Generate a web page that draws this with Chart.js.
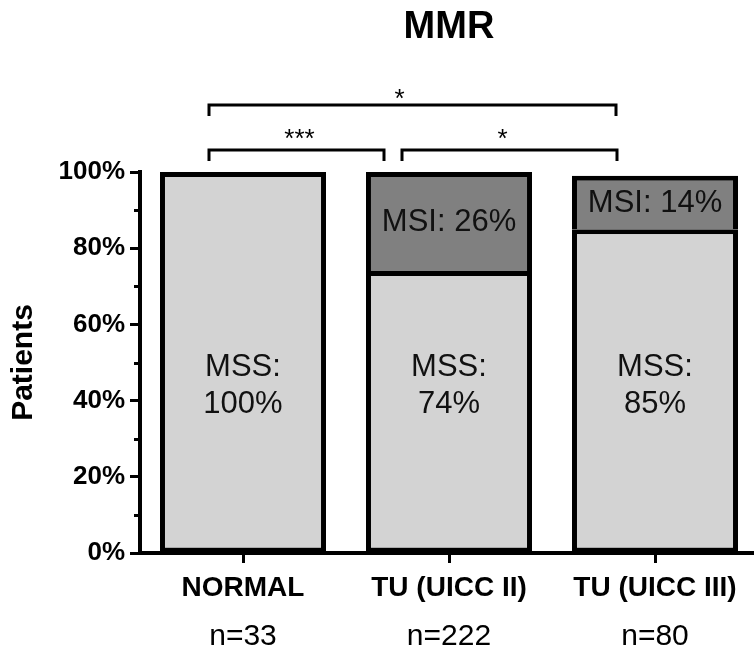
<!DOCTYPE html>
<html>
<head>
<meta charset="utf-8">
<script src="https://cdn.jsdelivr.net/npm/chart.js@4.4.1/dist/chart.umd.min.js"></script>
<style>
  html, body { margin: 0; padding: 0; background: #fff; overflow: hidden; }
  canvas { display: block; }
</style>
</head>
<body>
<canvas id="mmrChart" width="758" height="648"></canvas>
<script>
// Données du graphique
const categories = ['NORMAL', 'TU (UICC II)', 'TU (UICC III)'];
const sampleSizes = ['n=33', 'n=222', 'n=80'];
const mssValues = [100, 74, 85];
const msiValues = [null, 26, 14];
const sigPairs = [[0, 1], [1, 2], [0, 2]];
const sigLabels = ['***', '*', '*'];

const FONT = "'Liberation Sans', Arial, Helvetica, sans-serif";

// Etiquettes dans les barres (MSS / MSI)
const barLabels = {
  id: 'barLabels',
  afterDatasetsDraw(chart) {
    const ctx = chart.ctx;
    const y = chart.scales.y;
    ctx.save();
    ctx.fillStyle = '#111';
    ctx.font = '31px ' + FONT;
    ctx.textAlign = 'center';
    ctx.textBaseline = 'middle';

    chart.getDatasetMeta(0).data.forEach((bar, i) => {
      const cy = y.getPixelForValue(44);
      ctx.fillText('MSS:', bar.x, cy - 18);
      ctx.fillText(mssValues[i] + '%', bar.x, cy + 19);
    });
    chart.getDatasetMeta(1).data.forEach((bar, i) => {
      if (msiValues[i] == null) return;
      ctx.fillText('MSI: ' + msiValues[i] + '%', bar.x, (bar.y + bar.base) / 2 + 1);
    });
    ctx.restore();
  }
};

// Ticks mineurs + crochets de significativité
const extras = {
  id: 'extras',
  afterDraw(chart) {
    const ctx = chart.ctx;
    const x = chart.scales.x;
    const y = chart.scales.y;
    const area = chart.chartArea;
    ctx.save();
    ctx.strokeStyle = '#000';
    ctx.lineWidth = 3;

    [10, 30, 50, 70, 90].forEach(v => {
      const py = Math.round(y.getPixelForValue(v)) + 0.5;
      ctx.beginPath();
      ctx.moveTo(area.left - 6, py);
      ctx.lineTo(area.left, py);
      ctx.stroke();
    });

    // géométrie des crochets (décalages par rapport au centre des catégories)
    const geom = [
      { dx1: -34, dx2: -65, top: area.top - 22, tdx: 3, tdy: -10 },
      { dx1: -47, dx2: -38, top: area.top - 22, tdx: -7, tdy: -10 },
      { dx1: -34, dx2: -39, top: area.top - 67, tdx: -13, tdy: -5 }
    ];
    ctx.fillStyle = '#000';
    ctx.font = '26px ' + FONT;
    ctx.textAlign = 'center';
    ctx.textBaseline = 'middle';
    sigPairs.forEach((pair, i) => {
      const g = geom[i];
      const x1 = x.getPixelForValue(pair[0]) + g.dx1;
      const x2 = x.getPixelForValue(pair[1]) + g.dx2;
      ctx.beginPath();
      ctx.moveTo(x1, g.top + 11);
      ctx.lineTo(x1, g.top);
      ctx.lineTo(x2, g.top);
      ctx.lineTo(x2, g.top + 11);
      ctx.stroke();
      ctx.fillText(sigLabels[i], (x1 + x2) / 2 + g.tdx, g.top + g.tdy);
    });
    ctx.restore();
  }
};

const chart = new Chart(document.getElementById('mmrChart'), {
  type: 'bar',
  data: {
    labels: categories,
    datasets: [
      {
        label: 'MSS',
        data: mssValues,
        backgroundColor: '#d3d3d3',
        borderColor: '#000',
        borderWidth: 5,
        borderSkipped: false,
        barPercentage: 0.806,
        categoryPercentage: 1
      },
      {
        label: 'MSI',
        data: msiValues,
        backgroundColor: '#808080',
        borderColor: '#000',
        borderWidth: 5,
        borderSkipped: 'bottom',
        barPercentage: 0.806,
        categoryPercentage: 1
      }
    ]
  },
  options: {
    responsive: false,
    animation: false,
    layout: { padding: 0 },
    plugins: {
      legend: { display: false },
      tooltip: { enabled: false },
      title: {
        display: true,
        text: 'MMR',
        fullSize: false,
        color: '#000',
        font: { family: FONT, size: 38, weight: 'bold' },
        padding: { top: 5, bottom: 121.4 }
      }
    },
    scales: {
      x: {
        stacked: true,
        afterFit: s => { s.height = 66; },
        grid: { display: true, drawOnChartArea: false, offset: false, tickLength: 10, tickWidth: 3, tickColor: '#000' },
        border: { display: true, color: '#000', width: 4 },
        ticks: { color: '#000', padding: 8, font: { family: FONT, size: 28, weight: 'bold' } }
      },
      x2: {
        type: 'category',
        labels: sampleSizes,
        position: 'bottom',
        afterFit: s => { s.height = 29; },
        grid: { display: false, drawTicks: false },
        border: { display: false },
        ticks: { color: '#000', padding: 0, font: { family: FONT, size: 30 } }
      },
      y: {
        stacked: true,
        min: 0,
        max: 100,
        afterFit: s => { s.width = 140; },
        grid: { drawOnChartArea: false, tickLength: 10, tickWidth: 3, tickColor: '#000' },
        border: { display: true, color: '#000', width: 4 },
        ticks: {
          stepSize: 20,
          color: '#000',
          padding: 5,
          font: { family: FONT, size: 26, weight: 'bold' },
          callback: v => v + '%'
        },
        title: {
          display: true,
          text: 'Patients',
          color: '#000',
          font: { family: FONT, size: 30, weight: 'bold' },
          padding: { top: 6, bottom: 0 }
        }
      }
    }
  },
  plugins: [barLabels, extras]
});
</script>
</body>
</html>
